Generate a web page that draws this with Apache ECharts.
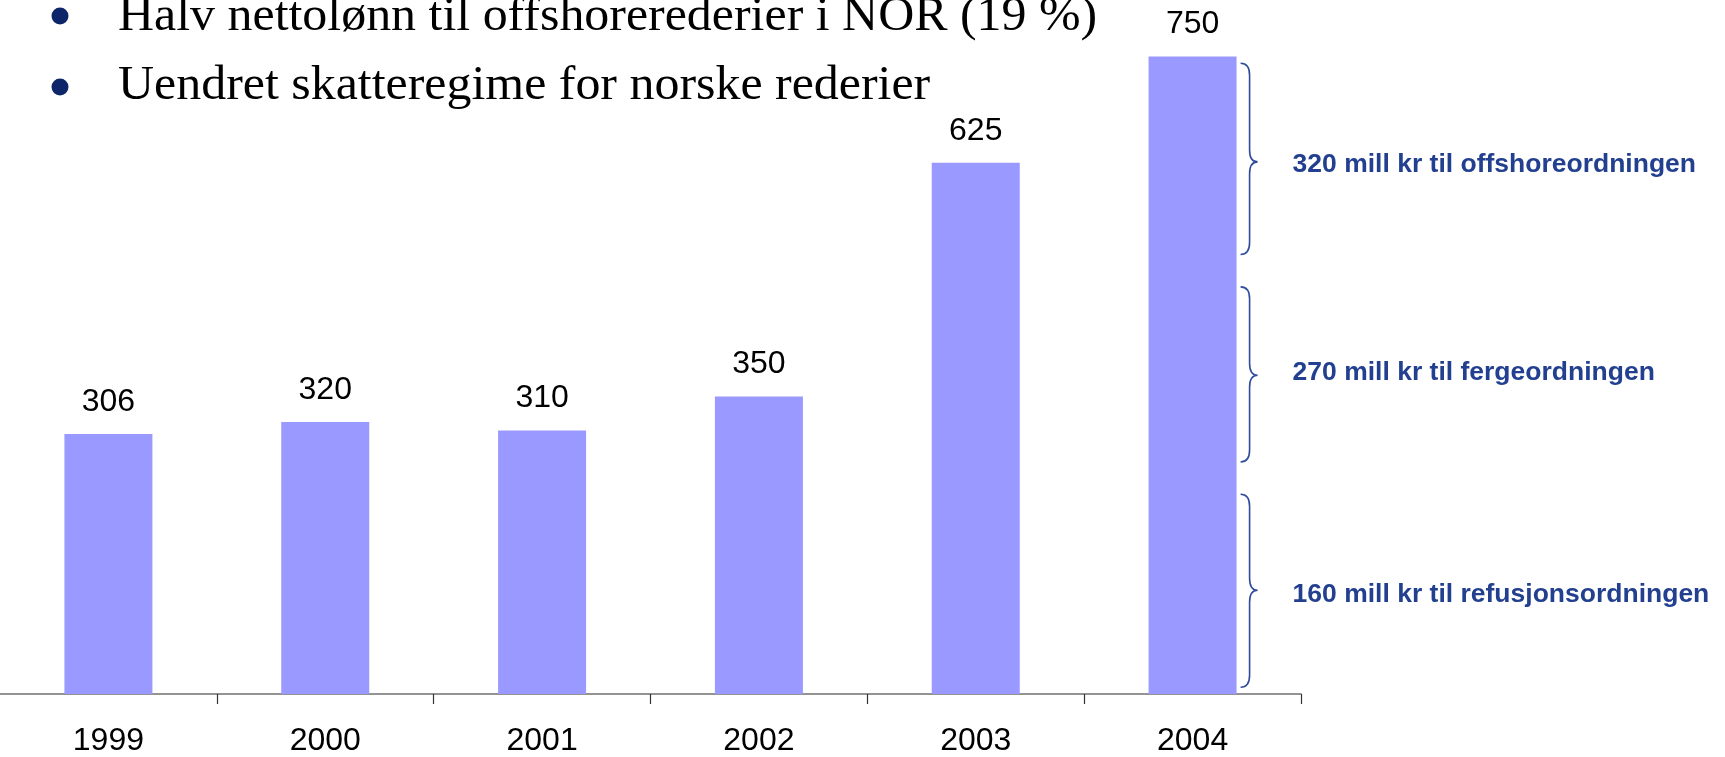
<!DOCTYPE html>
<html>
<head>
<meta charset="utf-8">
<style>
  html, body { margin: 0; padding: 0; background: #ffffff; }
  #chart-container { width: 1725px; height: 757px; }
</style>
<script src="https://cdn.jsdelivr.net/npm/echarts@6/dist/echarts.min.js"></script>
</head>
<body>
<div id="chart-container"></div>
<script>
// data
const years = ['1999', '2000', '2001', '2002', '2003', '2004'];
const amounts = [306, 320, 310, 350, 625, 750];

const bullets = [
  'Halv nettolønn til offshorerederier i NOR (19 %)',
  'Uendret skatteregime for norske rederier'
];

// braces to the right of the 2004 bar, in axis units
const braceLabels = [
  '320 mill kr til offshoreordningen',
  '270 mill kr til fergeordningen',
  '160 mill kr til refusjonsordningen'
];
const braceLow = [517, 273, 8];
const braceHigh = [742, 479, 235];
const braceTip = [626, 375, 122];
const braceTextAt = [622, 377, 116];

const barColor = '#9999ff';
const noteColor = '#22408f';

var dom = document.getElementById('chart-container');
var myChart = echarts.init(dom);

function braceItem(params, api) {
  var cat = api.value(0);
  var x = api.coord([cat, api.value(2)]);
  var top = x[1];
  var bot = api.coord([cat, api.value(1)])[1];
  var tip = api.coord([cat, api.value(3)])[1];
  var ty = api.coord([cat, api.value(4)])[1];
  var x0 = x[0] + 48;   // hook ends, just right of the bar
  var xs = x0 + 9;      // spine
  var xt = xs + 8;      // tip
  var r = 12;
  var d = 'M' + x0 + ',' + top +
    ' Q' + xs + ',' + top + ' ' + xs + ',' + (top + r) +
    ' L' + xs + ',' + (tip - r) +
    ' Q' + xs + ',' + tip + ' ' + xt + ',' + tip +
    ' Q' + xs + ',' + tip + ' ' + xs + ',' + (tip + r) +
    ' L' + xs + ',' + (bot - r) +
    ' Q' + xs + ',' + bot + ' ' + x0 + ',' + bot;
  return {
    type: 'group',
    children: [
      {
        type: 'path',
        shape: { pathData: d },
        style: { fill: 'none', stroke: '#2f4b9c', lineWidth: 1.6 }
      },
      {
        type: 'text',
        x: xt + 35,
        y: ty,
        scaleX: 1.06,
        style: {
          text: braceLabels[params.dataIndex],
          font: 'bold 25px "Liberation Sans", Arial, sans-serif',
          fill: noteColor,
          align: 'left',
          verticalAlign: 'middle'
        }
      }
    ]
  };
}

var option = {
  backgroundColor: '#ffffff',
  animation: false,
  grid: {
    left: 0,
    right: 424,
    top: 14,
    bottom: 62,
    containLabel: false
  },
  xAxis: {
    type: 'category',
    data: years,
    axisLine: { show: true, lineStyle: { color: '#707070', width: 1.5 } },
    axisTick: {
      show: true,
      length: 10,
      interval: function (index) { return index > 0; },
      lineStyle: { color: '#333333', width: 1.2 }
    },
    axisLabel: {
      color: '#000000',
      fontSize: 32,
      fontFamily: '"Liberation Sans", Arial, sans-serif',
      margin: 31
    }
  },
  yAxis: {
    type: 'value',
    min: 0,
    max: 800,
    show: false,
    splitLine: { show: false }
  },
  series: [
    {
      type: 'bar',
      data: amounts,
      barWidth: 88,
      itemStyle: { color: barColor },
      label: {
        show: true,
        position: 'top',
        distance: 16,
        color: '#000000',
        fontSize: 32,
        fontFamily: '"Liberation Sans", Arial, sans-serif'
      }
    },
    {
      type: 'custom',
      renderItem: braceItem,
      encode: { x: 0, y: [1, 2, 3, 4] },
      data: braceLow.map(function (lo, i) {
        return [years.length - 1, lo, braceHigh[i], braceTip[i], braceTextAt[i]];
      }),
      silent: true,
      z: 5
    }
  ],
  graphic: [
    { type: 'circle', shape: { cx: 60, cy: 16, r: 8.5 }, style: { fill: '#0c2669' } },
    { type: 'circle', shape: { cx: 60, cy: 87, r: 8.5 }, style: { fill: '#0c2669' } },
    {
      type: 'text', x: 118, y: 17, scaleX: 1.04,
      style: { text: bullets[0], font: '48px "Liberation Serif", "Times New Roman", serif', fill: '#000000', verticalAlign: 'middle' }
    },
    {
      type: 'text', x: 118, y: 86, scaleX: 1.04,
      style: { text: bullets[1], font: '48px "Liberation Serif", "Times New Roman", serif', fill: '#000000', verticalAlign: 'middle' }
    }
  ]
};

myChart.setOption(option);
window.addEventListener('resize', () => myChart.resize());
</script>
</body>
</html>
